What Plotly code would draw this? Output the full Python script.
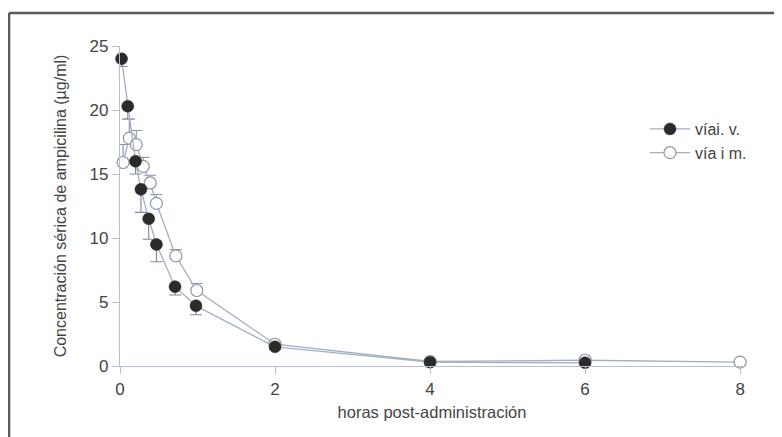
import plotly.graph_objects as go

# Data
t_iv = [0.02, 0.1, 0.2, 0.27, 0.37, 0.47, 0.71, 0.98, 2, 4, 6]
c_iv = [24.0, 20.3, 16.0, 13.8, 11.5, 9.5, 6.2, 4.7, 1.5, 0.3, 0.25]
e_iv = [0.6, 1.0, 1.0, 1.8, 1.6, 1.35, 0.65, 0.7, 0.2, 0.1, 0.1]

t_im = [0.04, 0.12, 0.21, 0.3, 0.39, 0.47, 0.72, 0.99, 2, 4, 6, 8]
c_im = [15.9, 17.8, 17.3, 15.6, 14.3, 12.7, 8.6, 5.9, 1.7, 0.35, 0.45, 0.3]
e_im = [1.4, 1.5, 1.1, 0.7, 0.6, 0.7, 0.5, 0.55, 0.2, 0.15, 0.15, 0.1]

x_ticks = [0, 2, 4, 6, 8]
y_ticks = [0, 5, 10, 15, 20, 25]

line_col = "#a3afc4"
axis_col = "#b4bfd2"
font = "Liberation Sans, Arial, sans-serif"

fig = go.Figure()
fig.add_trace(go.Scatter(
    x=t_im, y=c_im, mode="lines+markers", name="vía i m.",
    line=dict(color=line_col, width=1.3),
    marker=dict(symbol="circle", size=12, color="white",
                line=dict(color="#8c97aa", width=1.2)),
    error_y=dict(type="data", symmetric=False, array=e_im,
                 arrayminus=[0] * len(e_im), color="#8c97aa",
                 thickness=1.1, width=6),
    cliponaxis=False,
))
fig.add_trace(go.Scatter(
    x=t_iv, y=c_iv, mode="lines+markers", name="víai. v.",
    line=dict(color=line_col, width=1.3),
    marker=dict(symbol="circle", size=12, color="#2b2b2b",
                line=dict(color="#2b2b2b", width=0.5)),
    error_y=dict(type="data", symmetric=False, array=[0] * len(e_iv),
                 arrayminus=e_iv, color="#7f8a9c",
                 thickness=1.1, width=6),
    cliponaxis=False,
))

# page body has an 8px margin, so figure is offset by 8px
OFF = 8
W, H = 782 - OFF, 437 - OFF
# absolute pixel positions of the plot area in the screenshot
L, R, T, B = 120, 744, 46, 366
def px(x):
    return (x - L) / (R - L)
def py(y):
    return (B - y) / (B - T)

fig.add_shape(type="line", xref="paper", yref="paper",
              x0=px(9), x1=px(9), y0=py(13), y1=py(437),
              line=dict(color="#5a5a5a", width=2.5))
fig.add_shape(type="line", xref="paper", yref="paper",
              x0=px(9), x1=px(782), y0=py(13), y1=py(13),
              line=dict(color="#5a5a5a", width=2.5))

fig.update_layout(
    width=W, height=H,
    margin=dict(l=L - OFF, r=(W + OFF) - R, t=T - OFF, b=(H + OFF) - B),
    paper_bgcolor="white", plot_bgcolor="white",
    font=dict(family=font, color="#444444", size=15),
    showlegend=True,
    legend=dict(x=px(645), y=py(112), xanchor="left", yanchor="top",
                traceorder="reversed", bgcolor="rgba(0,0,0,0)",
                font=dict(size=16, color="#444444"),
                itemwidth=40),
    xaxis=dict(range=[0, 8.05], tickvals=x_ticks, ticktext=[str(v) for v in x_ticks],
               showgrid=False, zeroline=False, showline=True,
               linecolor=axis_col, linewidth=1.3,
               ticks="outside", ticklen=7, tickcolor=axis_col,
               tickfont=dict(size=17, color="#444444"),
               title=dict(text="horas post-administración", standoff=8,
                          font=dict(size=16.5, color="#444444"))),
    yaxis=dict(range=[0, 25], tickvals=y_ticks, ticktext=[str(v) for v in y_ticks],
               showgrid=False, zeroline=False, showline=True,
               linecolor=axis_col, linewidth=1.3,
               ticks="outside", ticklen=7, tickcolor=axis_col,
               tickfont=dict(size=17, color="#444444"),
               title=dict(text="Concentración sérica de ampicilina (µg/ml)",
                          standoff=18, font=dict(size=16, color="#444444"))),
)

fig.write_html("out.html")
